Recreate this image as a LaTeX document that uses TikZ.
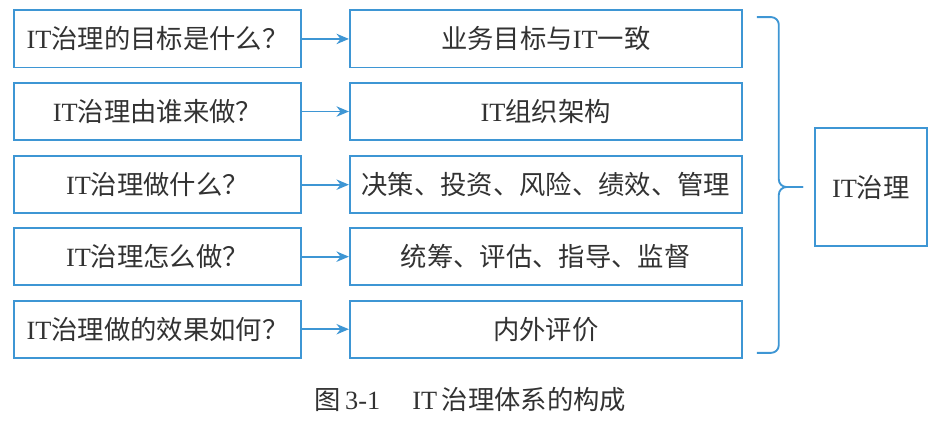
\documentclass[tikz,border=0pt]{standalone}
\usepackage{fontspec}
\setmainfont{Liberation Serif}
\newfontfamily\cjk{Noto Sans CJK SC}
\usetikzlibrary{arrows.meta, positioning}

\definecolor{lineblue}{RGB}{62,150,212}
\definecolor{textgray}{RGB}{50,50,50}

\begin{document}
\begin{tikzpicture}[
        font=\cjk\fontsize{12.7}{15}\selectfont,
        question/.style={draw=lineblue, line width=0.9pt, minimum width=4.86cm, minimum height=0.97cm, text=textgray},
        answer/.style={draw=lineblue, line width=0.9pt, minimum width=6.64cm, minimum height=0.97cm, text=textgray},
        whole/.style={draw=lineblue, line width=0.9pt, minimum width=1.9cm, minimum height=2cm, text=textgray},
        link/.style={->, lineblue, line width=0.9pt},
        >={Stealth[length=6pt, width=5pt]}
    ]

    \useasboundingbox (0,0) rectangle (16,-7.203);

    % ---- questions ----
    \node[question] (q1) at (2.67,-0.66) {\textrm{IT}治理的目标是什么？};
    \node[question] (q2) at (2.67,-1.89) {\textrm{IT}治理由谁来做？};
    \node[question] (q3) at (2.67,-3.13) {\textrm{IT}治理做什么？};
    \node[question] (q4) at (2.67,-4.35) {\textrm{IT}治理怎么做？};
    \node[question] (q5) at (2.67,-5.58) {\textrm{IT}治理做的效果如何？};

    % ---- answers ----
    \node[answer] (a1) at (9.25,-0.66) {业务目标与\textrm{IT}一致};
    \node[answer] (a2) at (9.25,-1.89) {\textrm{IT}组织架构};
    \node[answer] (a3) at (9.25,-3.13) {决策、投资、风险、绩效、管理};
    \node[answer] (a4) at (9.25,-4.35) {统筹、评估、指导、监督};
    \node[answer] (a5) at (9.25,-5.58) {内外评价};

    % ---- question -> answer ----
    \draw[link] (q1.east) -- (a1.west);
    \draw[link] (q2.east) -- (a2.west);
    \draw[link] (q3.east) -- (a3.west);
    \draw[link] (q4.east) -- (a4.west);
    \draw[link] (q5.east) -- (a5.west);

    % ---- brace to IT governance ----
    \coordinate (btop) at (12.83,-0.29);
    \coordinate (bbot) at (12.83,-5.98);
    \coordinate (bmid) at (13.2,-3.17);
    \coordinate (btip) at (13.61,-3.17);
    \draw[lineblue, line width=0.9pt, rounded corners=0.13cm] (btop) -| (bmid) -- (btip);
    \draw[lineblue, line width=0.9pt, rounded corners=0.13cm] (bbot) -| (bmid) -- (btip);
    \node[whole] (it) at (14.76,-3.17) {\textrm{IT}治理};

    % ---- caption ----
    \node[text=textgray] (cap) at (7.97,-6.78) {图\,\textrm{3-1}\quad\ \textrm{IT}\,治理体系的构成};

\end{tikzpicture}
\end{document}
